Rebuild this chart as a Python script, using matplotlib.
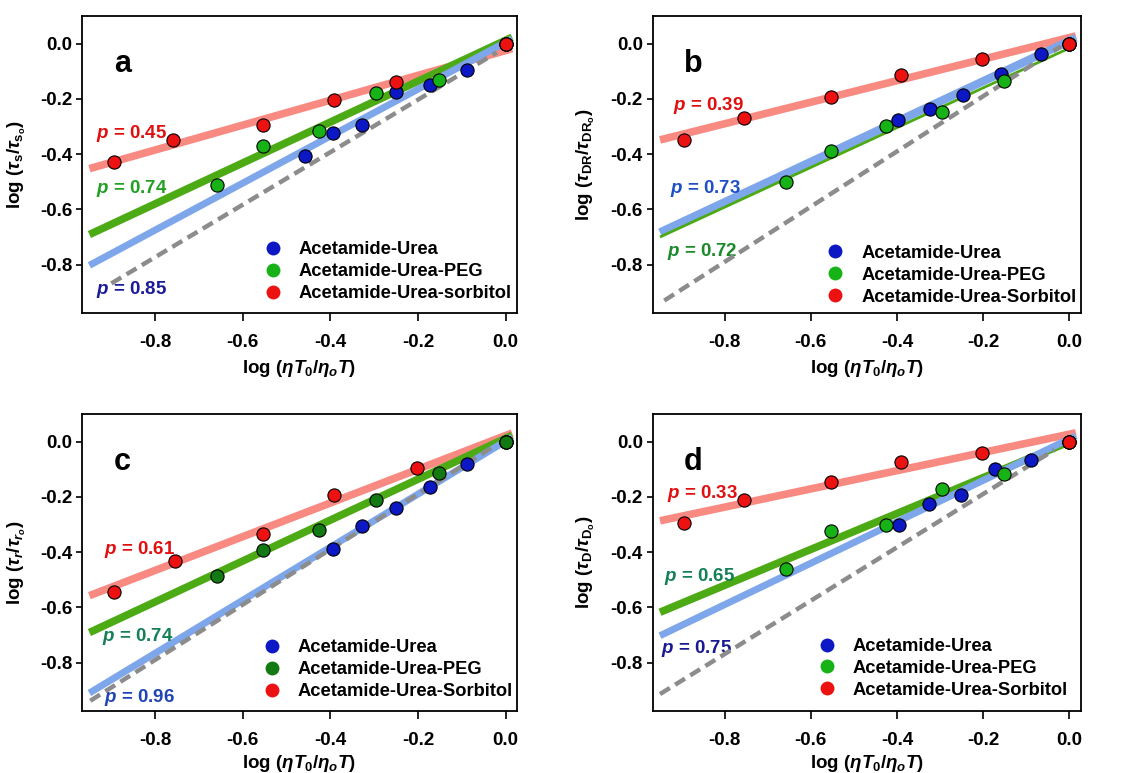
import numpy as np
import matplotlib
matplotlib.use("Agg")
import matplotlib.pyplot as plt
from matplotlib.lines import Line2D

plt.rcParams['font.family'] = ['Liberation Sans', 'DejaVu Sans']
plt.rcParams['font.weight'] = 'bold'
plt.rcParams['axes.unicode_minus'] = False
plt.rcParams['mathtext.fontset'] = 'custom'
plt.rcParams['mathtext.rm'] = 'Liberation Sans:bold'
plt.rcParams['mathtext.bf'] = 'Liberation Sans:bold'
plt.rcParams['mathtext.it'] = 'Liberation Sans:italic:bold'

labels = ['Acetamide-Urea', 'Acetamide-Urea-PEG']

# shared x positions
peg_x = [-0.658, -0.553, -0.426, -0.295, -0.153, 0.0]
sorb_x = [-0.894, -0.755, -0.554, -0.391, -0.203, 0.0]
urea_x = [-0.395, -0.327, -0.251, -0.173, -0.089, 0.0]

# (a) solvation time
urea_xa = [-0.459, -0.395, -0.327, -0.251, -0.173, -0.089, 0.0]
urea_ya = [-0.406, -0.322, -0.296, -0.176, -0.149, -0.096, 0.0]
peg_ya = [-0.513, -0.372, -0.317, -0.180, -0.131, 0.0]
sorb_xa = [-0.893, -0.760, -0.554, -0.392, -0.251, 0.0]
sorb_ya = [-0.430, -0.348, -0.295, -0.204, -0.139, 0.0]

# (b) dielectric relaxation
urea_xb = [-0.398, -0.323, -0.246, -0.160, -0.065, 0.0]
urea_yb = [-0.276, -0.237, -0.186, -0.110, -0.036, 0.0]
peg_yb = [-0.502, -0.390, -0.298, -0.249, -0.137, 0.0]
sorb_yb = [-0.348, -0.271, -0.195, -0.114, -0.054, 0.0]

# (c) rotation time
urea_yc = [-0.387, -0.306, -0.239, -0.164, -0.080, 0.0]
peg_yc = [-0.485, -0.392, -0.319, -0.211, -0.115, 0.0]
sorb_yc = [-0.543, -0.433, -0.336, -0.192, -0.095, 0.0]

# (d) diffusion
urea_yd = [-0.301, -0.225, -0.193, -0.100, -0.068, 0.0]
peg_yd = [-0.460, -0.324, -0.300, -0.173, -0.118, 0.0]
sorb_yd = [-0.295, -0.210, -0.146, -0.074, -0.042, 0.0]

# fractional exponents p and line offsets (urea, PEG, sorbitol)
p_a = [0.85, 0.74, 0.45]
p_b = [0.73, 0.72, 0.39]
p_c = [0.96, 0.74, 0.61]
p_d = [0.75, 0.65, 0.33]
b_a = [0.005, 0.012, -0.025]
b_b = [0.010, -0.016, 0.022]
b_c = [0.002, 0.012, 0.022]
b_d = [0.010, 0.000, 0.027]

ylabels = [r'log ($\tau_{\mathrm{s}}/\tau_{\mathrm{s_o}}$)',
           r'log ($\tau_{\mathrm{DR}}/\tau_{\mathrm{DR_o}}$)',
           r'log ($\tau_r/\tau_{r_o}$)',
           r'log ($\tau_{\mathrm{D}}/\tau_{\mathrm{D_o}}$)']
sorb_labels = ['Acetamide-Urea-sorbitol', 'Acetamide-Urea-Sorbitol',
               'Acetamide-Urea-Sorbitol', 'Acetamide-Urea-Sorbitol']

panels = [
    dict(ux=urea_xa, uy=urea_ya, py=peg_ya, sx=sorb_xa, sy=sorb_ya, p=p_a, b=b_a),
    dict(ux=urea_xb, uy=urea_yb, py=peg_yb, sx=sorb_x, sy=sorb_yb, p=p_b, b=b_b),
    dict(ux=urea_x, uy=urea_yc, py=peg_yc, sx=sorb_x, sy=sorb_yc, p=p_c, b=b_c),
    dict(ux=urea_x, uy=urea_yd, py=peg_yd, sx=sorb_x, sy=sorb_yd, p=p_d, b=b_d),
]

# reference line (slope, offset, x start, x end)
ref = [(0.95, -0.013, -0.90, -0.02), (1.0, 0.01, -0.94, -0.02),
       (1.0, 0.01, -0.948, -0.03), (0.966, 0.004, -0.95, -0.035)]

# p label anchors: (x, y) for urea, PEG, sorbitol
p_pos = [[(-0.936, -0.908), (-0.936, -0.541), (-0.936, -0.342)],
         [(-0.927, -0.541), (-0.933, -0.770), (-0.921, -0.240)],
         [(-0.916, -0.944), (-0.922, -0.720), (-0.916, -0.406)],
         [(-0.947, -0.766), (-0.941, -0.503), (-0.933, -0.204)]]
p_cols = [['#1a1a9a', '#22a022', '#e01010'],
          ['#1f4fc8', '#1a8a2a', '#e01010'],
          ['#1f45b5', '#138056', '#e01010'],
          ['#1a1a90', '#138056', '#e01010']]

line_cols = ['#7ea6ea', '#4caa14', '#f98a82']
mk_blue = '#0c18c4'
mk_green = ['#16b216', '#16b216', '#137a13', '#16b216']
mk_red = '#ec1212'
green_lw = [5.5, 2.0, 5.5, 5.5]
blue_lw = [5.0, 6.0, 5.0, 5.0]

legend_anchor = [(0.418, 0.242), (0.405, 0.230), (0.415, 0.242), (0.385, 0.246)]
ylab_x = [-0.124, -0.13, -0.124, -0.13]
xlab_y = [-0.152, -0.152, -0.141, -0.141]
letters = ['a', 'b', 'c', 'd']

fig = plt.figure(figsize=(11.29, 7.73), dpi=100)
axes_rect = [[0.0726, 0.5951, 0.3853, 0.3842],
             [0.5781, 0.5951, 0.3791, 0.3842],
             [0.0726, 0.0802, 0.3853, 0.3842],
             [0.5781, 0.0802, 0.3791, 0.3842]]

fit_x = np.array([-0.95, 0.015])

for i, pnl in enumerate(panels):
    ax = fig.add_axes(axes_rect[i])
    # fitted lines
    ax.plot(fit_x, pnl['p'][2] * fit_x + pnl['b'][2], color=line_cols[2], lw=5.5,
            solid_capstyle='butt', zorder=1)
    ax.plot(fit_x, pnl['p'][1] * fit_x + pnl['b'][1], color=line_cols[1], lw=green_lw[i],
            solid_capstyle='butt', zorder=2)
    ax.plot(fit_x, pnl['p'][0] * fit_x + pnl['b'][0], color=line_cols[0], lw=blue_lw[i],
            solid_capstyle='butt', zorder=1.5 if i == 1 else 3)
    s, off, x0, x1 = ref[i]
    rx = np.array([x0, x1])
    ax.plot(rx, s * rx + off, color='#8c8c8c', lw=3.2, ls=(0, (2.6, 1.4)), zorder=4)

    mk = dict(marker='o', ls='none', ms=9.5, mec='black', mew=0.8)
    ax.plot(pnl['ux'], pnl['uy'], mfc=mk_blue, zorder=5, **mk)
    if i == 2:
        ax.plot(pnl['sx'], pnl['sy'], mfc=mk_red, zorder=5, **mk)
        ax.plot(peg_x, pnl['py'], mfc=mk_green[i], zorder=5, **mk)
    else:
        ax.plot(peg_x, pnl['py'], mfc=mk_green[i], zorder=5, **mk)
        ax.plot(pnl['sx'], pnl['sy'], mfc=mk_red, zorder=5, **mk)

    for k in range(3):
        px, py = p_pos[i][k]
        ax.text(px, py, r'$p$ = %.2f' % pnl['p'][k], color=p_cols[i][k],
                fontsize=13.5, fontweight='bold', ha='left', va='baseline')

    ax.text(0.073, 0.81, letters[i], transform=ax.transAxes, fontsize=22,
            fontweight='bold', ha='left', va='baseline')

    handles = [Line2D([], [], marker='o', ls='none', ms=10, mec='none', mfc=c)
               for c in (mk_blue, mk_green[i], mk_red)]
    ax.legend(handles, labels + [sorb_labels[i]], loc='upper left',
              bbox_to_anchor=legend_anchor[i], frameon=False,
              borderpad=0, borderaxespad=0, handlelength=1.0, handletextpad=0.92,
              labelspacing=0.27, prop={'weight': 'bold', 'size': 13.2})

    ax.set_xlim(-0.967, 0.026)
    ax.set_ylim(-0.975, 0.1)
    ax.set_xticks([-0.8, -0.6, -0.4, -0.2, 0.0])
    ax.set_yticks([0.0, -0.2, -0.4, -0.6, -0.8])
    ax.set_xticklabels(['-0.8', '-0.6', '-0.4', '-0.2', '0.0'])
    ax.set_yticklabels(['0.0', '-0.2', '-0.4', '-0.6', '-0.8'])
    ax.tick_params(direction='out', width=1.2, labelsize=13.5)
    ax.tick_params(axis='x', length=6, pad=9)
    ax.tick_params(axis='y', length=4.5, pad=2.5)
    for sp in ax.spines.values():
        sp.set_linewidth(1.3)

    ax.set_xlabel(r'log ($\eta T_0/\eta_o T$)', fontsize=13.5, fontweight='bold')
    ax.xaxis.set_label_coords(0.5, xlab_y[i])
    ax.set_ylabel(ylabels[i], fontsize=13.5, fontweight='bold')
    ax.yaxis.set_label_coords(ylab_x[i], 0.5)

fig.savefig('out.png', dpi=100)
